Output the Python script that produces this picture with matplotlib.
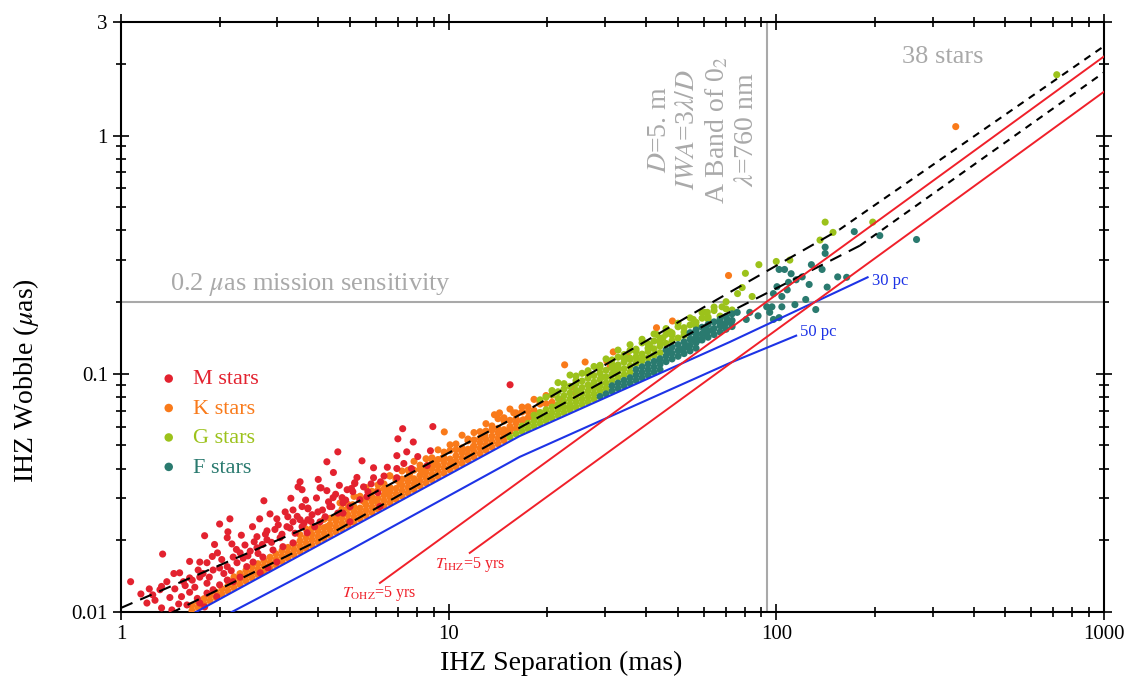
import matplotlib
matplotlib.use("Agg")
import matplotlib.pyplot as plt
from matplotlib.ticker import FixedLocator, LogLocator, NullFormatter

plt.rcParams["font.family"] = ["Liberation Serif", "DejaVu Serif"]
plt.rcParams["mathtext.fontset"] = "stix"

# ---- star samples: (IHZ separation [mas], IHZ wobble [uas]) ----
m_stars = [
    (1.07, 0.0134), (1.34, 0.0175), (1.80, 0.0209), (2.0, 0.0234), (2.15, 0.0246), (2.12, 0.0217),
    (2.11, 0.0205), (2.18, 0.0193), (2.73, 0.0293), (3.52, 0.0352), (3.47, 0.0335), (3.57, 0.0277),
    (3.35, 0.0268), (2.85, 0.0258), (2.99, 0.0246), (3.23, 0.0251), (3.72, 0.0271), (3.83, 0.0256),
    (2.60, 0.0207), (2.79, 0.0219), (2.79, 0.0201), (3.06, 0.0205), (3.21, 0.0228), (3.35, 0.0239),
    (3.52, 0.0244), (1.97, 0.0177), (2.20, 0.0170), (2.31, 0.0177), (2.44, 0.0172), (2.60, 0.0186),
    (2.71, 0.0170), (2.91, 0.0182), (3.12, 0.0188), (3.35, 0.0195), (1.74, 0.0162), (1.83, 0.0161),
    (1.91, 0.0150), (2.0, 0.0153), (2.11, 0.0155), (2.26, 0.0161), (1.51, 0.0146), (1.55, 0.0134),
    (1.65, 0.0136), (1.74, 0.0140), (1.83, 0.0132), (1.38, 0.0134), (1.315, 0.0124), (1.27, 0.0112),
    (1.33, 0.0104), (1.43, 0.0102), (1.53, 0.0116), (1.62, 0.0121), (1.71, 0.0114), (1.83, 0.0120),
    (1.91, 0.0124), (2.0, 0.0130), (2.11, 0.0136), (1.96, 0.0116), (1.59, 0.0107), (1.74, 0.0109),
    (1.80, 0.0105), (2.42, 0.0155), (2.53, 0.0162), (2.66, 0.0146), (2.81, 0.0153), (2.99, 0.0162),
    (2.31, 0.0140), (2.20, 0.0134), (4.59, 0.0470), (4.25, 0.0427), (5.44, 0.0431), (4.05, 0.0332),
    (4.25, 0.0323), (5.17, 0.0349), (4.90, 0.0326), (5.36, 0.0296), (4.34, 0.0277), (4.73, 0.0302),
    (4.59, 0.0260), (5.0, 0.0277), (15.4, 0.0899), (7.24, 0.0588), (8.95, 0.0600), (7.0, 0.0533),
    (7.8, 0.0517), (7.45, 0.0470), (6.95, 0.0453), (8.05, 0.0449), (8.8, 0.0475), (8.6, 0.0412),
    (6.95, 0.0400), (5.9, 0.0403), (6.35, 0.0372), (5.17, 0.0346), (5.9, 0.0366), (6.95, 0.0366),
    (4.08, 0.0332), (5.1, 0.0320), (5.67, 0.0320), (4.44, 0.0302), (4.76, 0.0287), (4.4, 0.0277),
    (3.99, 0.0263), (3.72, 0.0273), (3.57, 0.0326), (3.72, 0.0244), (4.05, 0.0239), (4.2, 0.0251),
    (3.9, 0.0228), (3.57, 0.0228), (3.7, 0.0215), (4.76, 0.0260), (5.0, 0.0239), (5.63, 0.0305),
    (6.08, 0.0317), (6.17, 0.0277),
    (1.20, 0.0109), (1.25, 0.0118), (1.41, 0.0115), (1.46, 0.0125), (1.50, 0.0108), (1.57, 0.0129),
    (1.62, 0.0139), (1.68, 0.0127), (1.72, 0.0150), (1.78, 0.0145), (1.86, 0.0140), (1.90, 0.0171),
    (2.03, 0.0166), (2.06, 0.0145), (2.17, 0.0149), (2.25, 0.0183), (2.36, 0.0168), (2.39, 0.0191),
    (2.48, 0.0180), (2.55, 0.0197), (2.62, 0.0176), (2.70, 0.0192), (2.76, 0.0212), (2.88, 0.0196),
    (2.95, 0.0222), (3.02, 0.0232), (3.10, 0.0212), (3.17, 0.0263), (3.28, 0.0225), (3.40, 0.0214),
    (3.45, 0.0252), (3.62, 0.0236), (3.66, 0.0295), (3.80, 0.0240), (3.95, 0.0301), (4.12, 0.0268),
    (4.30, 0.0290), (4.52, 0.0312), (4.64, 0.0340), (4.85, 0.0295), (5.05, 0.0330), (5.25, 0.0367),
    (5.5, 0.0335), (5.8, 0.0345), (6.2, 0.0352), (6.5, 0.0405), (7.3, 0.0420), (7.7, 0.0400),
    (2.52, 0.0228), (2.65, 0.0246), (1.45, 0.0145), (1.33, 0.0128), (1.22, 0.0125), (1.15, 0.0119),
    (1.62, 0.0163), (1.93, 0.0192), (2.33, 0.0210), (4.0, 0.0360), (4.45, 0.0385), (3.3, 0.0300),
]

# separations along the crowded band (read every ~6 px along the x axis)
band_sep = [
    1.514, 1.579, 1.647, 1.718, 1.792, 1.869, 1.950, 2.034, 2.121, 2.213, 2.308, 2.407, 2.511, 2.619,
    2.732, 2.850, 2.973, 3.101, 3.234, 3.373, 3.519, 3.670, 3.828, 3.993, 4.165, 4.345, 4.532, 4.727,
    4.931, 5.143, 5.365, 5.596, 5.837, 6.088, 6.350, 6.624, 6.909, 7.207, 7.517, 7.841, 8.179, 8.531,
    8.898, 9.282, 9.681, 10.10, 10.53, 10.99, 11.46, 11.95, 12.47, 13.00, 13.56, 14.15, 14.76, 15.39,
    16.06, 16.75, 17.47, 18.22, 19.01, 19.83, 20.68, 21.57, 22.50, 23.47, 24.48, 25.54, 26.64, 27.78,
    28.98, 30.23, 31.53, 32.89, 34.31, 35.79, 37.33, 38.94, 40.61, 42.36, 44.19, 46.09, 48.07, 50.15,
    52.31, 54.56, 56.91, 59.36, 61.92, 64.59, 67.37, 70.27, 73.30,
]

# K-star band wobbles (bottom to top of the band)
k_row_a = [
    0.01013, 0.01045, 0.01080, 0.01114, 0.01150, 0.01186, 0.01224, 0.01264, 0.01304, 0.01347, 0.01390,
    0.01435, 0.01480, 0.01528, 0.01577, 0.01628, 0.01680, 0.01734, 0.01790, 0.01847, 0.01906, 0.01968,
    0.02031, 0.02096, 0.02163, 0.02232, 0.02305, 0.02378, 0.02455, 0.02534, 0.02615, 0.02699, 0.02786,
    0.02875, 0.02967, 0.03063, 0.03161, 0.03262, 0.03368, 0.03476, 0.03587, 0.03702, 0.03821, 0.03944,
    0.04071, 0.04201, 0.04337, 0.04475, 0.04619, 0.04767, 0.04920, 0.05079, 0.05241,
]
k_row_b = [
    0.01067, 0.01101, 0.01137, 0.01173, 0.01211, 0.01249, 0.01289, 0.01331, 0.01373, 0.01418, 0.01464,
    0.01511, 0.01559, 0.01609, 0.01661, 0.01715, 0.01769, 0.01826, 0.01885, 0.01946, 0.02008, 0.02072,
    0.02139, 0.02207, 0.02278, 0.02351, 0.02427, 0.02505, 0.02585, 0.02668, 0.02754, 0.02843, 0.02934,
    0.03028, 0.03125, 0.03225, 0.03329, 0.03436, 0.03547, 0.03660, 0.03778, 0.03899, 0.04024, 0.04154,
    0.04287, 0.04424, 0.04567, 0.04713, 0.04865, 0.05021, 0.05182, 0.05349, 0.05520, 0.05697, 0.05881,
]
k_row_c = [
    0.01360, 0.01404, 0.01449, 0.01496, 0.01544, 0.01594, 0.01645, 0.01697, 0.01753, 0.01809, 0.01866,
    0.01926, 0.01988, 0.02053, 0.02118, 0.02186, 0.02256, 0.02329, 0.02404, 0.02481, 0.02561, 0.02643,
    0.02728, 0.02815, 0.02906, 0.02999, 0.03096, 0.03195, 0.03297, 0.03403, 0.03512, 0.03625, 0.03742,
    0.03862, 0.03986, 0.04114, 0.04246, 0.04383, 0.04523, 0.04668, 0.04819, 0.04973, 0.05132, 0.05297,
    0.05467, 0.05643, 0.05824, 0.06011, 0.06204, 0.06360, 0.06527,
]
k_row_d = [
    0.02109, 0.02230, 0.02247, 0.02290, 0.02450, 0.02471, 0.02500, 0.02700, 0.02717, 0.02760, 0.02960,
    0.02987, 0.03040, 0.03250, 0.03284, 0.03330, 0.03580, 0.03610, 0.03680, 0.03940, 0.03970, 0.04040,
    0.04330, 0.04364, 0.04440, 0.04760, 0.04798, 0.04880, 0.05230, 0.05275, 0.05370, 0.05750, 0.05800,
    0.05900, 0.06330, 0.06377, 0.06480, 0.06910, 0.06925, 0.07020, 0.07460, 0.07486, 0.07590,
]
k_row_e = [
    0.02828, 0.03056, 0.03060, 0.03329, 0.03209, 0.03416, 0.03446, 0.03723, 0.03641, 0.03906, 0.03940,
    0.04287, 0.04133, 0.04399, 0.04436, 0.04793, 0.04689, 0.05031, 0.05074, 0.05520, 0.05321, 0.05664,
    0.05713, 0.06172, 0.06038, 0.06477, 0.06533, 0.07109, 0.06852, 0.07244, 0.07265, 0.07806, 0.07592,
    0.08100, 0.08123,
]
k_scatter = [
    (22.6, 0.109), (26.1, 0.112), (31.8, 0.1235), (30.4, 0.1128), (31.1, 0.1067), (35.1, 0.119),
    (43.1, 0.156), (48.2, 0.1665), (71.5, 0.2585), (353.0, 1.09), (14.3, 0.0685), (15.8, 0.0685),
    (19.0, 0.0685), (20.4, 0.066), (18.0, 0.066), (23.8, 0.0879), (24.4, 0.0821), (22.2, 0.0778),
    (16.9, 0.0641), (15.4, 0.0582), (14.7, 0.0565), (13.8, 0.0673), (9.7, 0.057), (12.9, 0.0554),
    (11.9, 0.0494), (11.0, 0.047), (10.3, 0.0423), (9.6, 0.0444), (9.0, 0.042), (8.9, 0.0405),
    (8.3, 0.0385), (7.6, 0.0379), (6.6, 0.0373), (7.9, 0.0356), (7.1, 0.0345), (6.5, 0.0317),
    (5.9, 0.0296), (5.5, 0.0291), (5.1, 0.0282), (4.66, 0.0287), (5.36, 0.0260), (4.66, 0.0251),
    (4.25, 0.0228),
]

# G-star band wobbles
g_row_a = [0.0541, 0.05584, 0.05724, 0.05875, 0.06029, 0.06187, 0.06351, 0.06517, 0.06689, 0.06865,
           0.07046, 0.07232, 0.07422, 0.07618, 0.07817]
g_row_b = [0.06028, 0.06187, 0.06349, 0.06516, 0.06688, 0.06864, 0.07045, 0.0723, 0.07421, 0.07616,
           0.07816, 0.08022, 0.08233, 0.0845, 0.08672]
g_row_c = [0.06699, 0.06875, 0.07056, 0.07242, 0.07432, 0.07628, 0.07829, 0.08035, 0.08247, 0.08464,
           0.08686, 0.08915, 0.09149, 0.0939, 0.09637, 0.0989, 0.1015]
g_row_d = [0.07885, 0.08092, 0.08306, 0.08524, 0.08749, 0.08979, 0.09215, 0.09457, 0.09706, 0.09961,
           0.1022, 0.1049, 0.1077, 0.1105, 0.1134, 0.1164, 0.1195, 0.1226]
g_row_e = [0.07771, 0.07977, 0.08186, 0.08402, 0.08623, 0.0885, 0.09083, 0.09322, 0.09568, 0.09819,
           0.1008, 0.1034, 0.1061, 0.1089, 0.1118, 0.1147, 0.1178, 0.1209, 0.124, 0.1273, 0.1307,
           0.134, 0.1377, 0.1412, 0.145]
g_row_f = [0.09782, 0.103, 0.1085, 0.1143, 0.1204, 0.1268, 0.1336, 0.1407, 0.1483, 0.1561, 0.1644,
           0.1732]
g_row_g = [0.1257, 0.1324, 0.1395, 0.1469, 0.1547, 0.1629, 0.1716, 0.1808, 0.1905, 0.2006]
g_row_h = [0.08501, 0.09177, 0.09087, 0.09872, 0.09363, 0.1004, 0.09936, 0.1073, 0.1062, 0.1154,
           0.1094, 0.1173, 0.1161, 0.1253, 0.1241, 0.1348, 0.1279, 0.1371, 0.1357, 0.1464, 0.1451,
           0.1575, 0.1494, 0.1602, 0.1585, 0.1711, 0.1695, 0.1842, 0.1746, 0.1872, 0.1852]
g_scatter = [
    (68.3, 0.191), (61.6, 0.181), (55.8, 0.169), (47.4, 0.150), (45.1, 0.1416), (41.1, 0.131),
    (43.2, 0.146), (39.1, 0.117), (37.5, 0.1145), (35.7, 0.1165), (32.8, 0.106), (32.1, 0.101),
    (29.3, 0.0968), (28.9, 0.0885), (26.9, 0.0885), (25.2, 0.0841), (23.5, 0.0729), (21.9, 0.0729),
    (141.0, 0.433), (149.0, 0.392), (136.0, 0.364), (100.0, 0.296), (88.5, 0.287), (80.5, 0.264),
    (84.4, 0.211), (76.2, 0.217), (197.0, 0.433), (718.0, 1.80), (78.7, 0.23), (60.5, 0.181),
    (110.0, 0.30),
]

# F-star band wobbles
f_row_a = [0.08023, 0.08234, 0.08451, 0.08673, 0.08901, 0.09135, 0.09375, 0.09622, 0.09875, 0.1013,
           0.104]
f_row_b = [0.089, 0.09134, 0.09374, 0.0962, 0.09873, 0.1013, 0.104, 0.1067, 0.1095, 0.1124, 0.1154,
           0.1184, 0.1215, 0.1247, 0.128]
f_row_c = [0.1042, 0.1069, 0.1097, 0.1126, 0.1156, 0.1186, 0.1218, 0.1249, 0.1282, 0.1316, 0.135,
           0.1386, 0.1423, 0.146, 0.1498, 0.1538, 0.1578]
f_row_d = [0.1258, 0.1292, 0.1325, 0.136, 0.1396, 0.1432, 0.147, 0.1509, 0.1549, 0.159, 0.1631, 0.1674]
f_row_e = [0.1487, 0.1526, 0.1567, 0.1608, 0.1651, 0.1694, 0.1738, 0.1784]
f_scatter = [
    (93.5, 0.191), (97.0, 0.191), (88.0, 0.175), (83.0, 0.181), (81.0, 0.169), (76.0, 0.181),
    (73.0, 0.165), (68.5, 0.159), (64.0, 0.153), (61.5, 0.144), (55.7, 0.139), (53.4, 0.131),
    (50.8, 0.126), (47.4, 0.123), (44.1, 0.1145), (70.8, 0.169), (67.3, 0.165), (58.5, 0.139),
    (60.5, 0.153), (57.0, 0.147),
    (173.0, 0.395), (207.0, 0.38), (268.0, 0.366), (141.0, 0.32), (141.0, 0.34), (138.0, 0.274),
    (154.0, 0.255), (164.0, 0.254), (143.0, 0.231), (128.0, 0.287), (120.0, 0.255), (115.0, 0.248),
    (106.0, 0.274), (108.0, 0.225), (98.0, 0.217), (102.0, 0.274), (111.0, 0.263), (104.0, 0.211),
    (126.0, 0.237), (109.0, 0.242), (100.5, 0.232), (95.5, 0.181), (98.0, 0.169), (104.0, 0.191),
    (123.0, 0.205), (114.0, 0.195), (132.0, 0.186), (102.0, 0.172),
]

# ---- curves (separation, wobble) ----
upper_dash_sep = [1.0, 4.05, 16.5, 66.0, 156.0]
upper_dash_wob = [0.0104, 0.0239, 0.0673, 0.205, 0.403]
upper_tail_sep = [156.0, 1000.0]
upper_tail_wob = [0.403, 2.37]
lower_dash_sep = [1.40, 4.05, 16.5, 67.3, 180.0]
lower_dash_wob = [0.0098, 0.0201, 0.0594, 0.173, 0.345]
lower_tail_sep = [180.0, 1000.0]
lower_tail_wob = [0.345, 1.84]

pc30_sep = [1.65, 3.77, 16.5, 72.2, 190.0]
pc30_wob = [0.0098, 0.0182, 0.0548, 0.136, 0.254]
pc50_sep = [2.12, 5.0, 16.5, 72.2, 115.0]
pc50_wob = [0.0098, 0.0182, 0.0448, 0.111, 0.1445]

t_ohz_sep = [6.17, 1000.0]
t_ohz_wob = [0.01324, 2.146]
t_ihz_sep = [11.6, 1000.0]
t_ihz_wob = [0.0177, 1.526]

iwa_sep = 94.0          # 3 lambda / D for D=5 m, lambda=760 nm
sensitivity = 0.2


def band(start, rows, step=1):
    return list(zip(band_sep[start::step], rows))


k_all = (band(2, k_row_a) + band(2, k_row_b) + band(8, k_row_c) + band(20, k_row_d)
         + band(28, k_row_e) + k_scatter)
g_all = (band(55, g_row_a) + band(57, g_row_b) + band(59, g_row_c) + band(63, g_row_d)
         + band(60, g_row_e) + band(66, g_row_f, 2) + band(73, g_row_g, 2) + band(62, g_row_h)
         + g_scatter)
f_all = (band(70, f_row_a) + band(72, f_row_b) + band(76, f_row_c) + band(81, f_row_d)
         + band(85, f_row_e) + f_scatter)

colors = {"M": "#e3222f", "K": "#f97a1a", "G": "#9cc21b", "F": "#2a7a6f"}
gray = "#a9a9a9"
blue = "#1d33e6"
red = "#f0202a"

fig = plt.figure(figsize=(11.35, 6.83), dpi=100)
ax = fig.add_axes([0.1066, 0.104, 0.866, 0.864])

handles = {}
for key, stars, label in [("K", k_all, "K stars"), ("G", g_all, "G stars"),
                          ("F", f_all, "F stars"), ("M", m_stars, "M stars")]:
    xs, ys = zip(*stars)
    handles[key] = ax.scatter(xs, ys, s=26, color=colors[key], edgecolors="none",
                              label=label, zorder=3)

ax.axvline(iwa_sep, color=gray, lw=1.5, zorder=2)
ax.axhline(sensitivity, color=gray, lw=1.5, zorder=2)

ax.plot(upper_dash_sep, upper_dash_wob, color="black", lw=1.5, dashes=(6, 4), zorder=5)
ax.plot(lower_dash_sep, lower_dash_wob, color="black", lw=1.5, dashes=(6, 4), zorder=5)
ax.plot(upper_tail_sep, upper_tail_wob, color="black", lw=1.5, dashes=(3.5, 3), zorder=5)
ax.plot(lower_tail_sep, lower_tail_wob, color="black", lw=1.5, dashes=(3.5, 3), zorder=5)

ax.plot(pc30_sep, pc30_wob, color=blue, lw=1.5, zorder=5)
ax.plot(pc50_sep, pc50_wob, color=blue, lw=1.5, zorder=5)
ax.plot(t_ohz_sep, t_ohz_wob, color=red, lw=1.4, zorder=5)
ax.plot(t_ihz_sep, t_ihz_wob, color=red, lw=1.4, zorder=5)

ax.text(196, 0.246, "30 pc", color=blue, fontsize=12, va="center", ha="left")
ax.text(118, 0.149, "50 pc", color=blue, fontsize=12, va="center", ha="left")
ax.text(4.73, 0.0120, r"$T_{\rm OHZ}$=5 yrs", color=red, fontsize=11.5, va="center", ha="left")
ax.text(9.08, 0.0158, r"$T_{\rm IHZ}$=5 yrs", color=red, fontsize=11.5, va="center", ha="left")

ax.text(1.41, 0.207, r"0.2 $\mu$as mission sensitivity", color=gray, fontsize=19,
        va="bottom", ha="left")
ax.text(322, 2.13, "38 stars", color=gray, fontsize=19, va="center", ha="center")
ax.text(0.592, 0.817, "$D$=5. m\n$IWA$=3$\\lambda/D$\nA Band of 0$_2$\n$\\lambda$=760 nm",
        transform=ax.transAxes, rotation=90, color=gray, fontsize=20, ha="center",
        va="center", multialignment="center", linespacing=1.17)

ax.set_xscale("log")
ax.set_yscale("log")
ax.set_xlim(1, 1000)
ax.set_ylim(0.01, 3)

ax.xaxis.set_major_locator(FixedLocator([1, 10, 100, 1000]))
ax.set_xticklabels(["1", "10", "100", "1000"])
ax.yaxis.set_major_locator(FixedLocator([0.01, 0.1, 1, 3]))
ax.set_yticklabels(["0.01", "0.1", "1", "3"])
ax.xaxis.set_minor_locator(LogLocator(subs=range(2, 10)))
ax.yaxis.set_minor_locator(LogLocator(subs=range(2, 10)))
ax.xaxis.set_minor_formatter(NullFormatter())
ax.yaxis.set_minor_formatter(NullFormatter())
ax.tick_params(which="both", direction="inout", top=True, right=True, width=1.2,
               labelsize=15)
ax.tick_params(which="major", length=12)
ax.tick_params(which="minor", length=7)
for sp in ax.spines.values():
    sp.set_linewidth(1.5)

ax.set_xlabel("IHZ Separation (mas)", fontsize=20)
ax.xaxis.set_label_coords(0.448, -0.066)
ax.set_ylabel(r"IHZ Wobble ($\mu$as)", fontsize=20)
ax.yaxis.set_label_coords(-0.081, 0.393)

leg = ax.legend(handles=[handles["M"], handles["K"], handles["G"], handles["F"]],
                loc="upper left", bbox_to_anchor=(0.035, 0.412), frameon=False,
                fontsize=16, markerscale=1.2, handletextpad=0.5, labelspacing=0.4,
                borderaxespad=0, borderpad=0, handlelength=1.2)
for txt, key in zip(leg.get_texts(), ["M", "K", "G", "F"]):
    txt.set_color(colors[key])

fig.savefig("out.png", dpi=100)
